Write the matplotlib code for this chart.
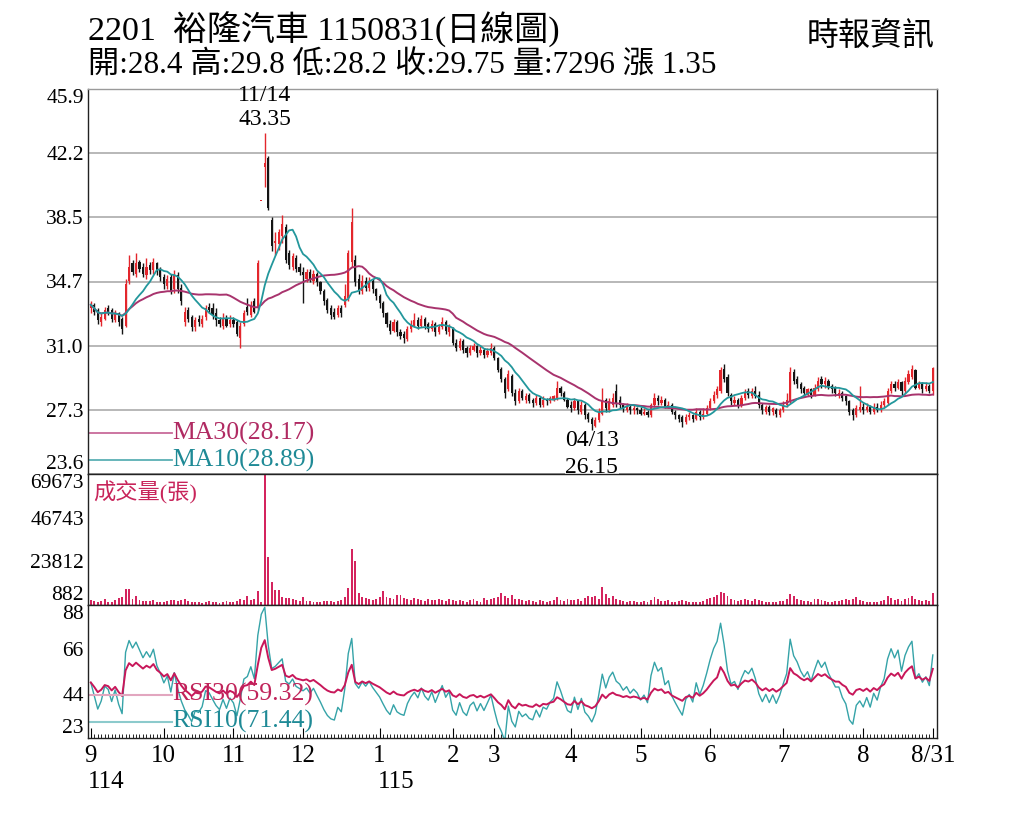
import numpy as np
import pandas as pd
import matplotlib.pyplot as plt

plt.rcParams['font.family'] = ['Liberation Serif', 'Noto Sans CJK TC']

# daily candles, 2025/09/01 (114) .. 2026/08/31 (115), one line per month
open_ = [
    33.2, 33.4, 33.1, 32.4, 32.6, 33.2, 33.1, 32.5, 32.9, 32.6, 32.2, 34.8, 35.8, 35.2, 35.9, 35.6, 35.1, 35.7, 35.4, 35.8, 35.4,
    35.0, 34.5, 35.0, 34.3, 35.1, 34.4, 32.4, 33.1, 32.7, 32.1, 32.6, 32.3, 32.7, 33.3, 33.2, 32.9, 32.5, 32.2, 32.6, 32.3,
    32.5, 32.4, 31.5, 32.3, 33.3, 32.8, 33.6, 33.2, 39.4, 41.4, 41.9, 38.3, 37.0, 36.9, 37.4, 37.9, 36.4, 35.6, 36.1, 35.6,
    35.3, 34.9, 35.3, 34.8, 35.2, 34.7, 34.2, 33.7, 33.2, 33.0, 32.8, 33.2, 33.4, 33.8, 35.9, 36.0, 34.9, 34.2, 34.8, 34.4, 34.8, 34.3,
    33.9, 33.5, 32.9, 32.3, 31.9, 32.4, 31.8, 31.7, 31.4, 32.0, 32.2, 32.5, 32.2, 32.6, 32.3, 32.0, 32.3, 31.8, 32.1, 32.4, 31.8,
    32.0, 31.2, 30.9, 31.3, 30.9, 30.6, 30.8, 31.0, 30.6, 30.8, 30.5, 30.6,
    30.9, 30.3, 29.7, 29.1, 28.5, 29.3, 28.3, 27.8, 28.4, 27.9, 28.2, 27.9, 27.7, 28.0, 27.6, 27.9, 27.8, 27.9, 28.0, 28.6, 28.3, 27.9,
    27.6, 27.4, 27.8, 27.2, 27.6, 27.1, 26.8, 26.4, 26.7, 27.1, 27.9, 27.3, 27.6, 28.4, 27.9, 27.6, 27.3, 27.5, 27.3, 27.4,
    27.3, 27.1, 27.2, 27.0, 27.6, 28.0, 27.7, 27.9, 27.5, 27.6, 27.2, 27.0, 26.9, 26.6, 26.9, 27.0, 26.8, 27.2, 26.9, 27.1,
    27.4, 27.8, 28.2, 28.4, 29.7, 29.2, 28.2, 27.7, 27.9, 27.6, 28.0, 28.4, 28.1, 28.4, 28.2, 27.6, 27.2, 27.5, 27.2, 27.3, 27.0,
    27.3, 27.6, 27.8, 29.5, 29.1, 28.8, 28.6, 28.2, 28.5, 28.2, 28.5, 29.1, 28.8, 29.0, 28.7, 28.6, 28.1, 28.3, 28.1, 27.8, 27.3, 27.0, 27.3,
    27.5, 27.3, 27.5, 27.2, 27.5, 27.3, 27.6, 27.7, 28.4, 28.8, 28.6, 28.9, 28.4, 28.9, 29.2, 29.6, 28.6, 28.8, 28.5, 28.7, 28.4,
]
high = [
    33.6, 33.5, 33.2, 32.9, 33.3, 33.4, 33.2, 33.1, 33.0, 32.7, 34.9, 36.3, 36.0, 36.4, 36.0, 35.8, 36.1, 35.9, 36.1, 35.9, 35.6,
    35.2, 35.1, 35.2, 35.4, 35.3, 34.6, 33.3, 33.3, 32.8, 32.7, 32.8, 32.8, 33.4, 33.5, 33.5, 33.2, 32.7, 32.9, 32.8, 32.8,
    32.7, 32.5, 32.4, 33.1, 33.8, 33.6, 33.8, 36.0, 39.4, 43.35, 42.0, 38.5, 37.6, 37.8, 38.6, 38.1, 36.6, 36.4, 36.3, 35.8,
    35.6, 35.5, 35.5, 35.4, 35.3, 34.8, 34.3, 33.8, 33.4, 33.2, 33.4, 33.4, 34.6, 36.6, 39.0, 36.3, 35.2, 35.1, 35.0, 35.0, 34.9, 34.4,
    34.0, 33.6, 33.0, 32.5, 32.6, 32.5, 32.0, 31.9, 32.2, 32.5, 32.9, 32.7, 32.8, 32.7, 32.4, 32.5, 32.4, 32.3, 32.7, 32.5, 32.3,
    32.1, 31.4, 31.5, 31.4, 31.0, 31.1, 31.2, 31.1, 31.0, 30.9, 30.9, 31.2,
    31.0, 30.4, 29.8, 29.2, 29.6, 29.4, 28.5, 28.6, 28.5, 28.3, 28.3, 28.0, 28.2, 28.1, 28.1, 28.0, 28.1, 28.2, 29.0, 28.7, 28.4, 28.0,
    27.8, 28.0, 27.9, 27.8, 27.7, 27.2, 26.9, 26.9, 27.4, 28.6, 28.0, 28.0, 28.3, 28.8, 28.1, 27.7, 27.7, 27.6, 27.6, 27.5,
    27.5, 27.4, 27.3, 27.7, 28.3, 28.2, 28.1, 28.0, 27.8, 27.7, 27.3, 27.1, 27.0, 27.1, 27.2, 27.1, 27.4, 27.3, 27.4, 27.6,
    28.0, 28.4, 28.7, 29.8, 30.0, 29.4, 28.3, 28.1, 28.0, 28.2, 28.5, 28.6, 28.6, 28.7, 28.4, 27.7, 27.6, 27.6, 27.5, 27.4, 27.4,
    27.8, 28.3, 29.8, 29.7, 29.3, 28.9, 28.7, 28.6, 28.6, 28.8, 29.2, 29.3, 29.2, 29.1, 28.8, 28.7, 28.5, 28.4, 28.2, 27.9, 27.4, 27.6, 28.7,
    27.7, 27.7, 27.6, 27.7, 27.7, 27.8, 28.0, 28.6, 29.0, 29.0, 29.1, 29.0, 29.2, 29.6, 29.9, 29.7, 29.0, 28.9, 28.9, 28.8, 29.8,
]
low = [
    32.9, 32.8, 32.3, 32.2, 32.5, 32.8, 32.4, 32.4, 32.2, 31.7, 32.1, 34.6, 35.1, 35.0, 35.3, 35.0, 34.9, 35.2, 35.2, 35.1, 34.8,
    34.3, 34.3, 34.0, 34.1, 34.1, 33.4, 32.2, 32.4, 31.9, 31.9, 32.2, 32.1, 32.5, 32.9, 32.6, 32.2, 32.1, 32.0, 32.1, 32.1,
    32.1, 31.6, 30.9, 32.2, 32.8, 32.7, 32.9, 33.1, 39.4, 40.2, 38.9, 36.5, 36.3, 36.6, 37.0, 35.8, 35.5, 35.4, 35.3, 35.1,
    33.5, 34.7, 34.7, 34.6, 34.5, 34.0, 33.4, 32.9, 32.6, 32.6, 32.7, 32.7, 33.3, 33.6, 35.6, 34.5, 34.0, 34.0, 34.2, 34.2, 34.1, 33.7,
    33.2, 32.7, 32.1, 31.7, 31.8, 31.6, 31.4, 31.2, 31.3, 31.8, 32.1, 32.0, 32.1, 32.0, 31.8, 31.9, 31.6, 31.7, 32.0, 31.7, 31.6,
    31.1, 30.7, 30.8, 30.6, 30.4, 30.5, 30.7, 30.4, 30.5, 30.3, 30.4, 30.5,
    30.2, 29.5, 28.9, 28.0, 28.4, 28.1, 27.6, 27.7, 27.9, 27.7, 27.7, 27.5, 27.6, 27.5, 27.5, 27.6, 27.7, 27.8, 27.9, 28.1, 27.8, 27.4,
    27.2, 27.3, 27.1, 27.1, 26.8, 26.6, 26.15, 26.3, 26.6, 27.0, 27.2, 27.2, 27.5, 27.5, 27.4, 27.2, 27.2, 27.1, 27.1, 27.1,
    27.0, 27.0, 26.9, 26.9, 27.5, 27.6, 27.6, 27.4, 27.4, 27.1, 26.8, 26.6, 26.3, 26.5, 26.7, 26.6, 26.7, 26.7, 26.8, 27.0,
    27.3, 27.7, 28.0, 28.3, 28.9, 28.1, 27.6, 27.6, 27.4, 27.5, 27.9, 28.0, 28.0, 28.0, 27.4, 27.1, 27.1, 27.0, 27.0, 26.9, 26.9,
    27.2, 27.5, 27.7, 28.8, 28.6, 28.3, 28.1, 28.1, 28.0, 28.1, 28.4, 28.6, 28.6, 28.5, 28.3, 28.1, 28.0, 27.8, 27.6, 27.0, 26.7, 26.9, 27.2,
    27.1, 27.2, 27.1, 27.1, 27.2, 27.2, 27.5, 27.6, 28.3, 28.4, 28.5, 28.2, 28.3, 28.8, 29.1, 28.5, 28.5, 28.3, 28.4, 28.3, 28.2,
]
close = [
    33.4, 33.0, 32.5, 32.7, 33.1, 33.0, 32.6, 32.9, 32.4, 32.0, 34.6, 35.6, 35.3, 35.8, 35.5, 35.2, 35.6, 35.4, 35.9, 35.3, 35.0,
    34.6, 34.9, 34.2, 35.1, 34.3, 33.6, 33.0, 32.6, 32.1, 32.5, 32.4, 32.6, 33.2, 33.1, 32.8, 32.5, 32.3, 32.6, 32.2, 32.5,
    32.3, 31.7, 32.2, 32.9, 33.0, 33.4, 33.0, 35.8, 39.4, 41.6, 39.0, 36.8, 37.1, 37.6, 38.1, 36.0, 35.7, 36.2, 35.5, 35.3,
    35.1, 35.3, 34.9, 35.2, 34.7, 34.2, 33.6, 33.1, 32.8, 32.7, 33.2, 32.9, 33.9, 36.4, 38.2, 34.7, 34.2, 34.8, 34.4, 34.8, 34.3, 33.9,
    33.5, 32.9, 32.3, 31.9, 32.4, 31.8, 31.6, 31.5, 32.0, 32.3, 32.5, 32.2, 32.6, 32.2, 32.0, 32.3, 31.8, 32.1, 32.4, 31.9, 32.1,
    31.2, 30.9, 31.3, 30.8, 30.6, 30.9, 31.0, 30.6, 30.8, 30.5, 30.7, 30.9,
    30.3, 29.6, 29.1, 28.3, 29.4, 28.3, 27.8, 28.4, 28.0, 28.1, 27.8, 27.7, 28.0, 27.6, 27.9, 27.8, 28.0, 28.1, 28.6, 28.3, 27.9, 27.5,
    27.4, 27.8, 27.3, 27.6, 27.0, 26.8, 26.5, 26.7, 27.2, 27.9, 27.4, 27.8, 28.0, 27.7, 27.6, 27.4, 27.5, 27.3, 27.4, 27.3,
    27.1, 27.2, 27.0, 27.6, 28.0, 27.8, 27.9, 27.5, 27.6, 27.2, 27.0, 26.8, 26.6, 26.9, 27.0, 26.8, 27.2, 26.9, 27.1, 27.4,
    27.8, 28.2, 28.5, 29.6, 29.1, 28.3, 27.8, 27.9, 27.6, 28.0, 28.3, 28.2, 28.4, 28.1, 27.6, 27.3, 27.5, 27.2, 27.4, 27.1, 27.3,
    27.6, 27.9, 29.5, 29.0, 28.8, 28.5, 28.3, 28.5, 28.2, 28.6, 29.0, 28.8, 29.0, 28.7, 28.5, 28.3, 28.3, 28.0, 27.8, 27.2, 27.0, 27.4, 27.5,
    27.3, 27.5, 27.2, 27.5, 27.3, 27.6, 27.8, 28.4, 28.8, 28.6, 28.9, 28.4, 29.0, 29.4, 29.7, 28.6, 28.8, 28.5, 28.7, 28.4, 29.75,
]
volume = [
    3600, 2800, 2400, 3100, 4200, 2600, 2500, 3400, 4500, 5200, 9200, 9100, 4000, 5500, 3500, 2800, 3000, 2900, 3300, 2600, 2400,
    2500, 2800, 3300, 3700, 3100, 3400, 4200, 2800, 2400, 2200, 2500, 2100, 2600, 2900, 2400, 2200, 2000, 2500, 2800, 2400,
    2600, 3200, 4000, 3600, 5800, 3300, 3900, 8400, 2400, 69673, 25900, 12850, 8800, 8800, 5300, 4750, 4500, 4200, 3700, 3200,
    4900, 3200, 2800, 2500, 2400, 2600, 2900, 3200, 2800, 2500, 3000, 3600, 5000, 9700, 30450, 24100, 7000, 5300, 4500, 3900, 3700, 4200,
    5300, 8300, 5000, 4300, 4000, 6200, 6000, 4800, 4200, 3700, 4600, 3900, 3600, 3200, 4200, 3600, 3300, 3800, 3400, 3000, 4000,
    3400, 3100, 3700, 2900, 2700, 3300, 3800, 3000, 2700, 4750, 3400, 3900,
    4400, 5200, 7000, 5800, 4800, 6150, 3900, 4100, 3500, 3100, 3400, 3000, 2700, 3300, 2900, 2600, 3100, 3700, 5200, 3500, 3100, 3900,
    3300, 3700, 4000, 3100, 4600, 5800, 5200, 5600, 4100, 10560, 6800, 4700, 5800, 4100, 3400, 3000, 2700, 3100, 2900, 2600,
    2700, 3000, 2500, 3300, 5000, 3900, 3100, 2900, 3400, 2600, 2500, 3100, 3600, 2900, 2600, 2300, 2700, 2500, 3000, 3900,
    4400, 5200, 6000, 7500, 7000, 5400, 3900, 3300, 3000, 3700, 4200, 3400, 3100, 3900, 3600, 2900, 2600, 2500, 2700, 2300, 2900,
    3100, 4000, 6500, 5400, 4200, 3400, 2900, 3100, 2700, 3800, 4000, 3300, 3000, 2700, 2600, 2900, 3100, 3700, 4200, 3400, 3900, 5100, 3700,
    2900, 2600, 2300, 2700, 2500, 3000, 3300, 5400, 4300, 3700, 3900, 3100, 4200, 4800, 5800, 4200, 3500, 3100, 3400, 3000, 7296,
]

month_pos = [0, 21, 41, 61, 83, 104, 116, 138, 158, 178, 199, 222, 242]
month_lbl = ['9', '10', '11', '12', '1', '2', '3', '4', '5', '6', '7', '8', '8/31']
year_pos = [-0.7, 82.4]
year_lbl = ['114', '115']

price_ticks = [23.6, 27.32, 31.03, 34.75, 38.47, 42.18, 45.9]
price_lbl = ['23.6', '27.3', '31.0', '34.7', '38.5', '42.2', '45.9']
vol_ticks = [882, 23812, 46743, 69673]
rsi_ticks = [22.7, 44.5, 66.3, 88.1]
rsi_lbl = ['23', '44', '66', '88']

RED = '#e3262c'
BLACK = '#141414'
MA30_C = '#a8336d'
MA10_C = '#23979c'
VOL_C = '#d4245e'
RSI30_C = '#c8175a'
RSI10_C = '#35a3a8'

df = pd.DataFrame({'open': open_, 'high': high, 'low': low, 'close': close, 'volume': volume})
idx = np.arange(len(df))
ma10 = df['close'].rolling(10, min_periods=1).mean()
ma30 = df['close'].rolling(30, min_periods=1).mean()


def rsi(s, n):
    d = s.diff()
    gain = d.clip(lower=0)
    loss = -d.clip(upper=0)
    gain.iloc[0] = 0.15  # neutral starting state
    loss.iloc[0] = 0.15
    ag = gain.ewm(alpha=1.0 / n, adjust=False).mean()
    al = loss.ewm(alpha=1.0 / n, adjust=False).mean()
    return 100 * ag / (ag + al)


rsi10 = rsi(df['close'], 10)
rsi30 = rsi(df['close'], 30)

fig = plt.figure(figsize=(10.24, 8.19), dpi=100)
W, H = 1024, 819
L, R = 88, 937


def axes_px(top, bottom):
    return fig.add_axes([L / W, 1 - bottom / H, (R - L) / W, (bottom - top) / H])


ax1 = axes_px(89, 474)
ax2 = axes_px(474, 605)
ax3 = axes_px(605, 738)
XL = (-0.8, 243.2)

# price panel
up = df['close'] >= df['open']
cols = np.where(up, RED, BLACK)
ax1.vlines(idx, df['low'], df['high'], color=cols, lw=1, zorder=3)
body = np.maximum((df['close'] - df['open']).abs(), 0.06)
ax1.bar(idx, body, bottom=np.minimum(df['open'], df['close']), width=0.62,
        color=cols, lw=0, zorder=3)
ax1.plot(idx, ma30, color=MA30_C, lw=1.4, zorder=4)
ax1.plot(idx, ma10, color=MA10_C, lw=1.3, zorder=4)
ax1.set_xlim(*XL)
ax1.set_ylim(23.6, 45.9)
ax1.set_xticks([])
ax1.set_yticks(price_ticks)
ax1.set_yticklabels(price_lbl)
ax1.yaxis.grid(True, color='#b8b8b8', lw=1.4)
ax1.set_axisbelow(True)

ax1.text(50, 45.5, '11/14', ha='center', va='center', fontsize=17)
ax1.text(50, 44.15, '43.35', ha='center', va='center', fontsize=17)
ax1.text(144, 25.55, '04/13', ha='center', va='center', fontsize=17)
ax1.text(144, 23.95, '26.15', ha='center', va='center', fontsize=17, zorder=6,
         clip_on=False, bbox=dict(facecolor='white', edgecolor='none', pad=0.5))

ax1.plot([-0.8, 23.4], [25.95, 25.95], color='#c86a9a', lw=1.3)
ax1.text(23.5, 25.95, 'MA30(28.17)', color='#b02a62', fontsize=18.5, va='center')
ax1.plot([-0.8, 23.4], [24.4, 24.4], color='#5bb0b4', lw=1.3)
ax1.text(23.5, 24.4, 'MA10(28.89)', color='#1f8a96', fontsize=18.5, va='center')

# volume panel
ax2.bar(idx, df['volume'], width=0.55, color=VOL_C, lw=0)
ax2.set_xlim(*XL)
ax2.set_ylim(882, 69673)
ax2.set_xticks([])
ax2.set_yticks(vol_ticks)
ax2.set_yticklabels([str(v) for v in vol_ticks])
ax2.text(0.006, 0.86, '成交量(張)', transform=ax2.transAxes, color='#c8245a',
         fontsize=16, va='center', ha='left')

# rsi panel
ax3.plot(idx, rsi10, color=RSI10_C, lw=1.0)
ax3.plot(idx, rsi30, color=RSI30_C, lw=1.4)
ax3.set_xlim(*XL)
ax3.set_ylim(22.7, 88.1)
ax3.set_yticks(rsi_ticks)
ax3.set_yticklabels(rsi_lbl)
ax3.plot([-0.8, 23.4], [43.9, 43.9], color='#e2a6bf', lw=1.5)
ax3.text(23.5, 43.9, 'RSI30(59.32)', color='#c0245a', fontsize=18.5, va='center')
ax3.plot([-0.8, 23.4], [30.6, 30.6], color='#8ccacc', lw=1.5)
ax3.text(23.5, 30.6, 'RSI10(71.44)', color='#1f8a96', fontsize=18.5, va='center')

ax3.set_xticks(month_pos)
ax3.set_xticklabels(month_lbl)
ax3.set_xticks(idx, minor=True)
ax3.tick_params(axis='x', which='major', direction='in', length=7, pad=5, labelsize=18)
ax3.tick_params(axis='x', which='minor', direction='in', length=3, width=0.6)
for i, t in zip(year_pos, year_lbl):
    ax3.text(i, -0.33, t, transform=ax3.get_xaxis_transform(), ha='left',
             va='center', fontsize=18)

for ax in (ax1, ax2, ax3):
    ax.tick_params(axis='y', length=0, pad=3, labelsize=15.5)
    for sp in ax.spines.values():
        sp.set_color('#222222')
        sp.set_linewidth(1.0)
    labs = ax.get_yticklabels()
    labs[0].set_va('bottom')
    labs[-1].set_va('top')
ax1.spines['top'].set_color('#9a9a9a')

fig.text(88 / W, 1 - 30 / H, '2201  裕隆汽車 1150831(日線圖)', fontsize=24.5,
         ha='left', va='center')
fig.text(88 / W, 1 - 66 / H, '開:28.4 高:29.8 低:28.2 收:29.75 量:7296 漲 1.35',
         fontsize=22.5, ha='left', va='center')
fig.text(935 / W, 1 - 37 / H, '時報資訊', fontsize=23, ha='right', va='center')

fig.savefig('out.png', dpi=100, facecolor='white')
